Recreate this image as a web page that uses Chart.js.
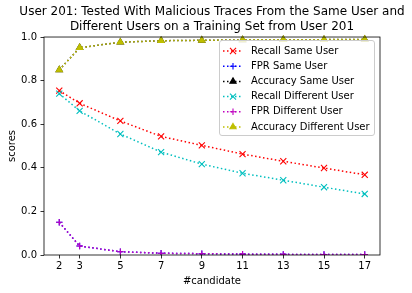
<!DOCTYPE html>
<html><head><meta charset="utf-8">
<script src="https://cdn.jsdelivr.net/npm/chart.js@4/dist/chart.umd.min.js"></script>
<style>html,body{margin:0;padding:0;background:#fff}</style>
</head><body><canvas id="c" width="412" height="293"></canvas>
<script>
const titleLines = ["User 201: Tested With Malicious Traces From the Same User and", "Different Users on a Training Set from User 201"];
const candidates = [2, 3, 5, 7, 9, 11, 13, 15, 17];
const recallSame = [0.754, 0.696, 0.615, 0.544, 0.503, 0.463, 0.430, 0.399, 0.368];
const fprSame    = [0.150, 0.041, 0.015, 0.008, 0.006, 0.004, 0.003, 0.002, 0.002];
const accSame    = [0.849, 0.951, 0.976, 0.983, 0.985, 0.987, 0.988, 0.988, 0.989];
const recallDiff = [0.740, 0.661, 0.555, 0.472, 0.417, 0.375, 0.343, 0.311, 0.280];
const fprDiff    = [0.150, 0.041, 0.015, 0.008, 0.006, 0.004, 0.003, 0.002, 0.002];
const accDiff    = [0.849, 0.951, 0.976, 0.983, 0.985, 0.987, 0.988, 0.988, 0.989];
const xTickValues = [2, 3, 5, 7, 9, 11, 13, 15, 17];
const yTickValues = [0.0, 0.2, 0.4, 0.6, 0.8, 1.0];
const seriesLabels = ["Recall Same User", "FPR Same User", "Accuracy Same User", "Recall Different User", "FPR Different User", "Accuracy Different User"];

const FONT = "'DejaVu Sans', sans-serif";
const styles = [
  {color: '#ff0000', point: 'crossRot', r: 4.3},
  {color: '#0000ff', point: 'cross', r: 3.2},
  {color: '#000000', point: 'triangle', r: 3.6},
  {color: '#00bfbf', point: 'crossRot', r: 4.3},
  {color: '#bf00bf', point: 'cross', r: 3.2},
  {color: '#bfbf00', point: 'triangle', r: 3.6}
];
const seriesData = [recallSame, fprSame, accSame, recallDiff, fprDiff, accDiff];

const datasets = seriesData.map((vals, i) => ({
  label: seriesLabels[i],
  data: vals.map((v, j) => ({x: candidates[j], y: v})),
  borderColor: styles[i].color,
  backgroundColor: styles[i].color,
  borderWidth: 1.5,
  borderDash: [1.5, 2.5],
  pointStyle: styles[i].point,
  pointRadius: styles[i].r,
  pointBorderWidth: 1.1,
  pointBorderColor: styles[i].color,
  pointBackgroundColor: styles[i].color,
  fill: false,
  tension: 0,
  order: 5 - i,
  clip: {left: 10, right: 10, top: 10, bottom: 0}
}));

const framePlugin = {
  id: 'frame',
  afterDatasetsDraw(chart) {
    const {ctx, chartArea: a} = chart;
    ctx.save();
    ctx.strokeStyle = '#000';
    ctx.lineWidth = 0.8;
    ctx.strokeRect(a.left, a.top, a.right - a.left, a.bottom - a.top);
    ctx.restore();
  }
};

const legendPlugin = {
  id: 'innerLegend',
  afterDraw(chart) {
    const ctx = chart.ctx;
    const bx = 219.5, by = 40.5, bw = 155, bh = 95;
    ctx.save();
    ctx.beginPath();
    const r = 2.5;
    ctx.moveTo(bx + r, by);
    ctx.lineTo(bx + bw - r, by); ctx.quadraticCurveTo(bx + bw, by, bx + bw, by + r);
    ctx.lineTo(bx + bw, by + bh - r); ctx.quadraticCurveTo(bx + bw, by + bh, bx + bw - r, by + bh);
    ctx.lineTo(bx + r, by + bh); ctx.quadraticCurveTo(bx, by + bh, bx, by + bh - r);
    ctx.lineTo(bx, by + r); ctx.quadraticCurveTo(bx, by, bx + r, by);
    ctx.closePath();
    ctx.fillStyle = 'rgba(255,255,255,0.8)';
    ctx.fill();
    ctx.strokeStyle = '#cccccc';
    ctx.lineWidth = 1;
    ctx.stroke();
    chart.data.datasets.forEach((ds, i) => {
      const y = 51 + i * 15.2;
      ctx.save();
      ctx.strokeStyle = ds.borderColor;
      ctx.lineWidth = 1.5;
      ctx.setLineDash([1.5, 2.5]);
      ctx.beginPath();
      ctx.moveTo(223, y); ctx.lineTo(243, y);
      ctx.stroke();
      ctx.restore();
      ctx.save();
      ctx.strokeStyle = ds.borderColor;
      ctx.fillStyle = ds.backgroundColor;
      ctx.lineWidth = 1.1;
      Chart.helpers.drawPoint(ctx, {pointStyle: ds.pointStyle, radius: ds.pointRadius, borderWidth: 1.1, rotation: 0}, 233, y);
      ctx.restore();
      ctx.fillStyle = '#000';
      ctx.font = '10px ' + FONT;
      ctx.textBaseline = 'middle';
      ctx.textAlign = 'left';
      ctx.fillText(ds.label, 251, y);
    });
    ctx.restore();
  }
};

new Chart(document.getElementById('c'), {
  type: 'line',
  data: {datasets},
  options: {
    responsive: false,
    animation: false,
    devicePixelRatio: 1,
    layout: {padding: {left: 12, right: 0, top: 0, bottom: 0}},
    plugins: {
      legend: {display: false},
      tooltip: {enabled: false},
      title: {
        display: true,
        text: titleLines,
        color: '#000',
        font: {family: FONT, size: 12, weight: 'normal', lineHeight: 1.28},
        padding: {top: 4, bottom: 2.3}
      }
    },
    scales: {
      x: {
        type: 'linear',
        min: 1.25, max: 17.75,
        afterBuildTicks: s => { s.ticks = xTickValues.map(v => ({value: v})); },
        afterFit: s => { s.height = 38; },
        ticks: {color: '#000', font: {family: FONT, size: 10}, padding: 2, maxRotation: 0, autoSkip: false,
                callback: v => String(v)},
        grid: {display: true, drawOnChartArea: false, tickLength: 3.5, tickColor: '#000', tickWidth: 0.8},
        border: {display: false},
        title: {display: true, text: '#candidate', color: '#000', font: {family: FONT, size: 10}, padding: {top: 0, bottom: 6}}
      },
      y: {
        type: 'linear',
        min: 0, max: 1,
        afterBuildTicks: s => { s.ticks = yTickValues.map(v => ({value: v})); },
        afterFit: s => { s.width = 32; },
        ticks: {color: '#000', font: {family: FONT, size: 10}, padding: 3.5, callback: v => Number(v).toFixed(1)},
        grid: {display: true, drawOnChartArea: false, tickLength: 3.5, tickColor: '#000', tickWidth: 0.8},
        border: {display: false},
        title: {display: true, text: 'scores', color: '#000', font: {family: FONT, size: 10}, padding: {top: -6, bottom: 0}}
      },
      y2: {
        type: 'linear',
        position: 'right',
        display: true,
        afterFit: s => { s.width = 32; },
        ticks: {display: false},
        grid: {display: false},
        border: {display: false}
      }
    }
  },
  plugins: [framePlugin, legendPlugin]
});
</script>
</body></html>
